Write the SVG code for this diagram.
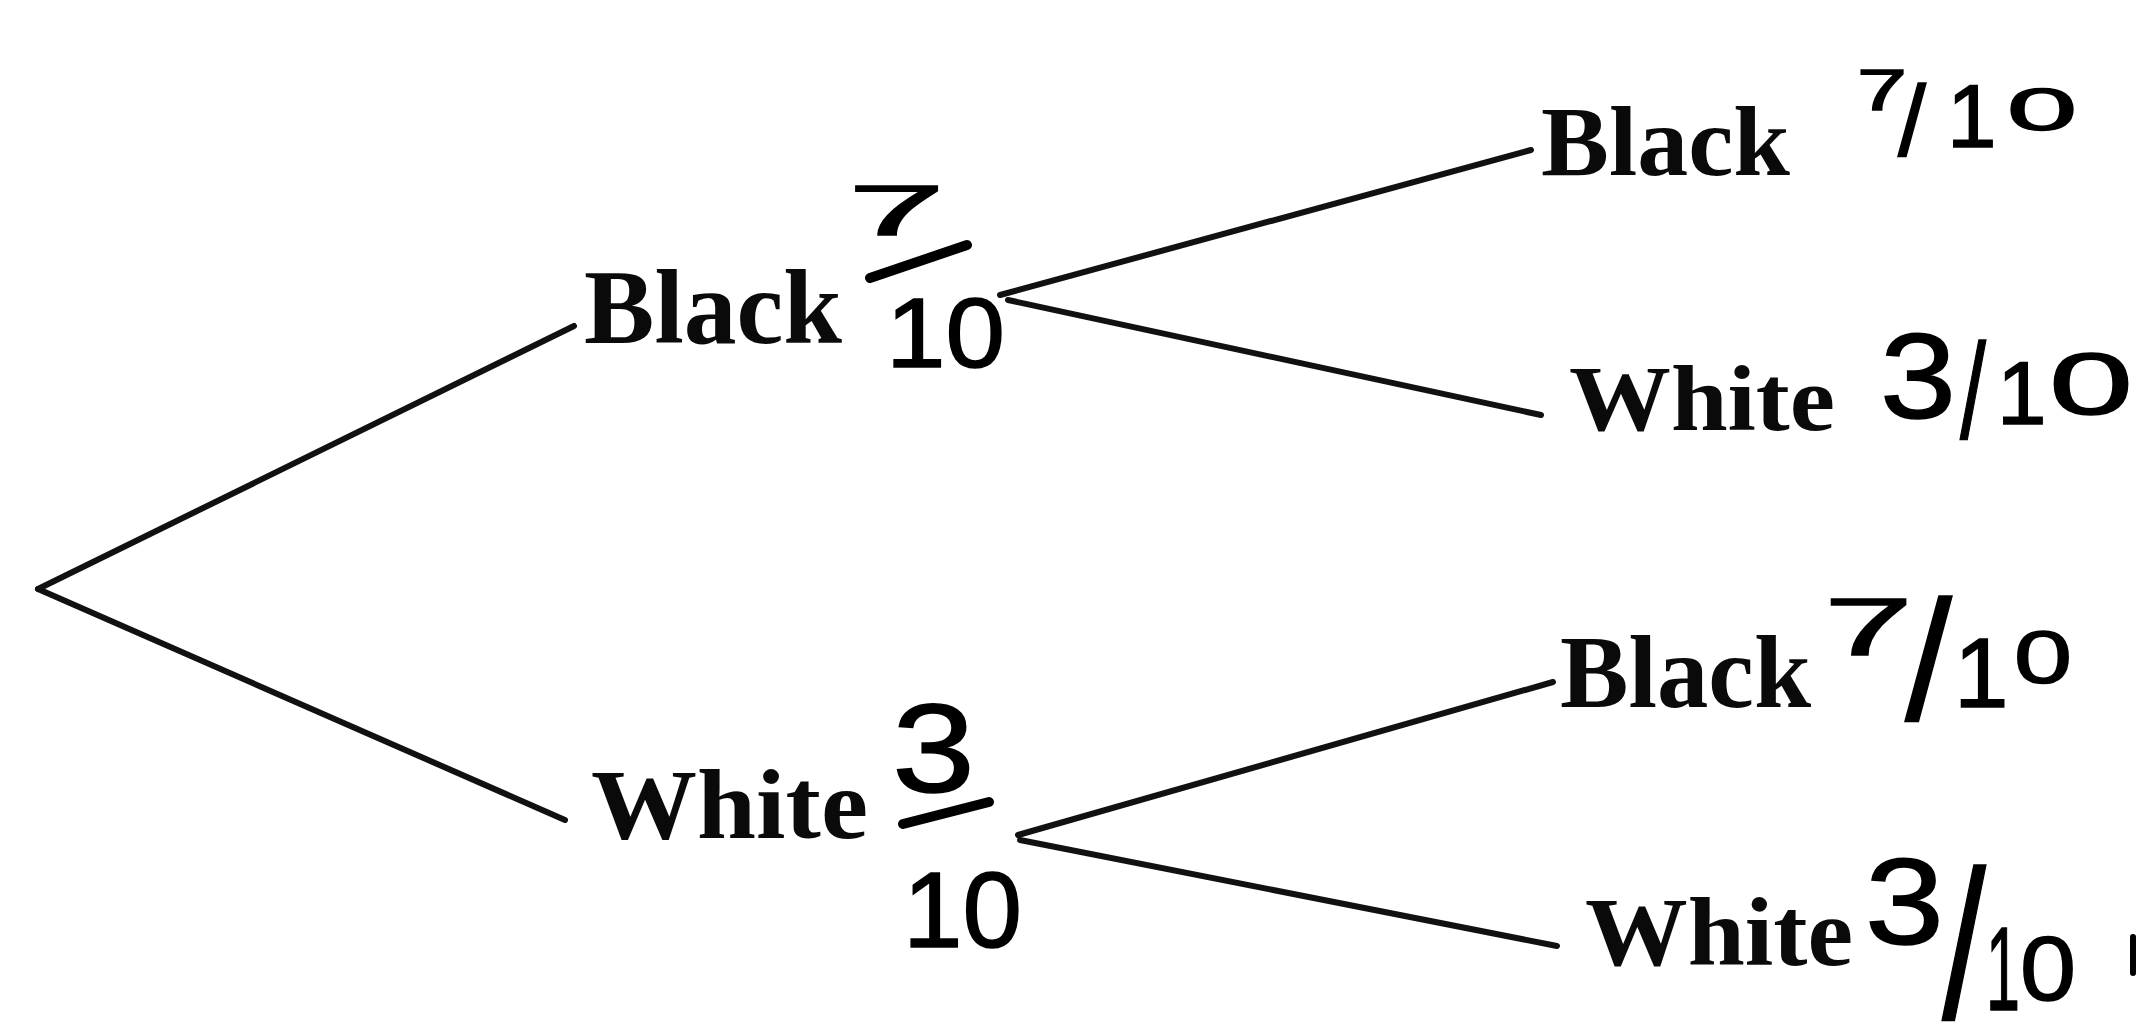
<svg xmlns="http://www.w3.org/2000/svg" width="2137" height="1024" viewBox="0 0 2137 1024">
<style>
.edge{stroke:#111;stroke-width:6;stroke-linecap:round;fill:none}
.bar{stroke:#000;stroke-width:10;stroke-linecap:round;fill:none}
.lbl{font-family:"Liberation Serif","Times New Roman",serif;font-weight:bold;fill:#0a0a0a}
.hw{font-family:"Liberation Sans",Arial,sans-serif;font-weight:normal;fill:#000;stroke:#000;stroke-width:1.5}
</style>
<rect width="2137" height="1024" fill="#ffffff"/>
<g id="connectors">
<line class="edge" x1="38" y1="589" x2="574" y2="326"/>
<line class="edge" x1="38" y1="589" x2="565" y2="820"/>
<line class="edge" x1="1000" y1="295" x2="1531" y2="150"/>
<line class="edge" x1="1008" y1="300" x2="1541" y2="415"/>
<line class="edge" x1="1018" y1="835" x2="1553" y2="682"/>
<line class="edge" x1="1020" y1="840" x2="1557" y2="946"/>
</g>
<g id="node-root"></g>
<g id="node-black1">
<text class="lbl" x="584" y="343" font-size="105" textLength="258" lengthAdjust="spacingAndGlyphs">Black</text>
<text class="hw" x="848" y="235" font-size="70" textLength="97" lengthAdjust="spacingAndGlyphs">7</text>
<line class="bar" x1="870" y1="278" x2="967" y2="245"/>
<text class="hw" x="886" y="367" font-size="98" textLength="119" lengthAdjust="spacingAndGlyphs">10</text>
</g>
<g id="node-white1">
<text class="lbl" x="591" y="838" font-size="100" textLength="277" lengthAdjust="spacingAndGlyphs">White</text>
<text class="hw" x="892" y="792" font-size="127" textLength="83" lengthAdjust="spacingAndGlyphs">3</text>
<line class="bar" x1="903" y1="824" x2="989" y2="802"/>
<text class="hw" x="903" y="947" font-size="107" textLength="119" lengthAdjust="spacingAndGlyphs">10</text>
</g>
<g id="node-black-black">
<text class="lbl" x="1541" y="175" font-size="100" textLength="249" lengthAdjust="spacingAndGlyphs">Black</text>
<text class="hw" x="1857" y="110" font-size="58" textLength="50" lengthAdjust="spacingAndGlyphs">7</text>
<text class="hw" x="1898" y="156" font-size="100" textLength="28" lengthAdjust="spacingAndGlyphs">/</text>
<text class="hw" x="1947" y="147" font-size="89">1</text>
<text class="hw" x="2007" y="130" font-size="60" textLength="70" lengthAdjust="spacingAndGlyphs">0</text>
</g>
<g id="node-black-white">
<text class="lbl" x="1569" y="430" font-size="94" textLength="266" lengthAdjust="spacingAndGlyphs">White</text>
<text class="hw" x="1880" y="418" font-size="120" textLength="76" lengthAdjust="spacingAndGlyphs">3</text>
<text class="hw" x="1960" y="438" font-size="135" textLength="26" lengthAdjust="spacingAndGlyphs">/</text>
<text class="hw" x="1997" y="424" font-size="89">1</text>
<text class="hw" x="2049" y="414" font-size="87" textLength="84" lengthAdjust="spacingAndGlyphs">0</text>
</g>
<g id="node-white-black">
<text class="lbl" x="1560" y="707" font-size="103" textLength="251" lengthAdjust="spacingAndGlyphs">Black</text>
<text class="hw" x="1824" y="655" font-size="81" textLength="89" lengthAdjust="spacingAndGlyphs">7</text>
<text class="hw" x="1905" y="720" font-size="170" textLength="47" lengthAdjust="spacingAndGlyphs">/</text>
<text class="hw" x="1954" y="707" font-size="98">1</text>
<text class="hw" x="2014" y="683" font-size="74" textLength="58" lengthAdjust="spacingAndGlyphs">0</text>
</g>
<g id="node-white-white">
<text class="lbl" x="1585" y="965" font-size="98" textLength="268" lengthAdjust="spacingAndGlyphs">White</text>
<text class="hw" x="1865" y="944" font-size="123" textLength="79" lengthAdjust="spacingAndGlyphs">3</text>
<text class="hw" x="1942" y="1018" font-size="212" textLength="44" lengthAdjust="spacingAndGlyphs">/</text>
<text class="hw" x="1986" y="1010" font-size="118" textLength="34" lengthAdjust="spacingAndGlyphs">1</text>
<text class="hw" x="2020" y="1000" font-size="91" textLength="56" lengthAdjust="spacingAndGlyphs">0</text>
<line x1="2133" y1="937" x2="2133" y2="973" stroke="#000" stroke-width="6" stroke-linecap="round"/>
</g>
</svg>
